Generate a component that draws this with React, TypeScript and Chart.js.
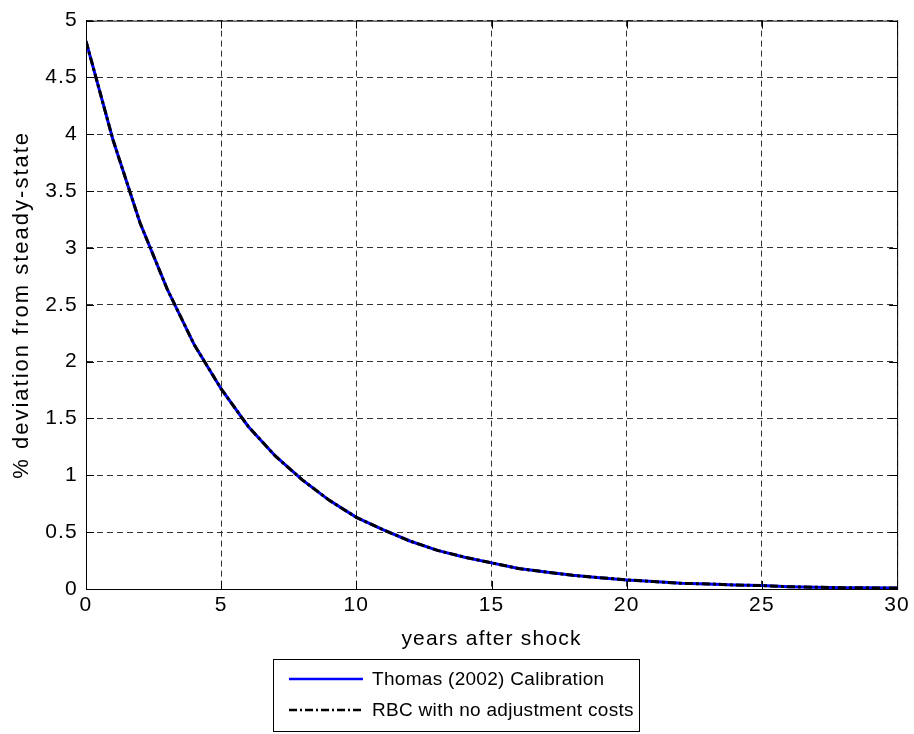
import React, { useEffect, useRef } from "react";
import { Chart, registerables } from "chart.js";

Chart.register(...registerables);

const years = [0,1,2,3,4,5,6,7,8,9,10,11,12,13,14,15,16,17,18,19,20,21,22,23,24,25,26,27,28,29,30];
const thomas = [4.82,3.95,3.22,2.64,2.15,1.76,1.43,1.17,0.96,0.78,0.63,0.52,0.42,0.34,0.28,0.23,0.18,0.15,0.12,0.10,0.08,0.065,0.05,0.045,0.035,0.03,0.02,0.015,0.012,0.01,0.008];
const rbc = [4.82,3.95,3.22,2.64,2.15,1.76,1.43,1.17,0.96,0.78,0.63,0.52,0.42,0.34,0.28,0.23,0.18,0.15,0.12,0.10,0.08,0.065,0.05,0.045,0.035,0.03,0.02,0.015,0.012,0.01,0.008];
const seriesNames = ["Thomas (2002) Calibration", "RBC with no adjustment costs"];
const xTicks = [0,5,10,15,20,25,30];
const yTicks = [0,0.5,1,1.5,2,2.5,3,3.5,4,4.5,5];
const xTitle = "years after shock";
const yTitle = "% deviation from steady-state";

const FONT = "'Liberation Sans', Arial, Helvetica, sans-serif";
const SPACING = "1.2px";

const framePlugin = {
  id: "frame",
  beforeUpdate(chart: any) { chart.ctx.letterSpacing = SPACING; },
  beforeDraw(chart: any) { chart.ctx.letterSpacing = SPACING; },
  afterDraw(chart: any) {
    const { ctx, chartArea: a } = chart;
    const xs = chart.scales.x;
    const ys = chart.scales.y;
    ctx.save();
    ctx.strokeStyle = "#000";
    ctx.lineWidth = 1;
    ctx.setLineDash([]);
    ctx.strokeRect(a.left + 0.5, a.top + 0.5, a.right - a.left, a.bottom - a.top);
    ctx.beginPath();
    xTicks.forEach((v) => {
      const px = Math.round(xs.getPixelForValue(v)) + 0.5;
      ctx.moveTo(px, a.bottom); ctx.lineTo(px, a.bottom - 8);
      ctx.moveTo(px, a.top); ctx.lineTo(px, a.top + 8);
    });
    yTicks.forEach((v) => {
      const py = Math.round(ys.getPixelForValue(v)) + 0.5;
      ctx.moveTo(a.left, py); ctx.lineTo(a.left + 8, py);
      ctx.moveTo(a.right, py); ctx.lineTo(a.right - 8, py);
    });
    ctx.stroke();

    // axis titles
    ctx.fillStyle = "#000";
    ctx.letterSpacing = SPACING;
    ctx.font = "21px " + FONT;
    ctx.textAlign = "center";
    ctx.textBaseline = "alphabetic";
    ctx.fillText(xTitle, (a.left + a.right) / 2, 645);
    ctx.save();
    ctx.translate(28, (a.top + a.bottom) / 2);
    ctx.rotate(-Math.PI / 2);
    ctx.font = "22px " + FONT;
    ctx.letterSpacing = "2px";
    ctx.fillText(yTitle, 0, 0);
    ctx.restore();

    // legend box
    const bx = 273.5, by = 659.5, bw = 366, bh = 72;
    ctx.fillStyle = "#fff";
    ctx.fillRect(bx, by, bw, bh);
    ctx.strokeStyle = "#000";
    ctx.strokeRect(bx, by, bw, bh);
    const rows = [679, 710];
    ctx.font = "19px " + FONT;
    ctx.letterSpacing = "0.3px";
    ctx.textBaseline = "middle";
    ctx.textAlign = "left";
    ctx.strokeStyle = "#0000ff";
    ctx.lineWidth = 2.5;
    ctx.beginPath(); ctx.moveTo(289, rows[0]); ctx.lineTo(363, rows[0]); ctx.stroke();
    ctx.strokeStyle = "#000";
    ctx.setLineDash([8, 3, 2, 3]);
    ctx.beginPath(); ctx.moveTo(289, rows[1]); ctx.lineTo(363, rows[1]); ctx.stroke();
    ctx.setLineDash([]);
    ctx.fillStyle = "#000";
    ctx.fillText(seriesNames[0], 372, rows[0] + 1);
    ctx.fillText(seriesNames[1], 372, rows[1] + 1);
    ctx.restore();
  },
};

export default function App() {
  const ref = useRef<HTMLCanvasElement | null>(null);
  useEffect(() => {
    if (!ref.current) return;
    const chart = new Chart(ref.current, {
      type: "line",
      data: {
        datasets: [
          {
            label: seriesNames[0],
            data: years.map((x, i) => ({ x, y: thomas[i] })),
            borderColor: "#0000ff",
            borderWidth: 3,
            pointRadius: 0,
            tension: 0,
            fill: false,
            order: 2,
          },
          {
            label: seriesNames[1],
            data: years.map((x, i) => ({ x, y: rbc[i] })),
            borderColor: "#000000",
            borderWidth: 3,
            borderDash: [8, 3, 3, 3],
            pointRadius: 0,
            tension: 0,
            fill: false,
            order: 1,
          },
        ],
      },
      options: {
        animation: false,
        responsive: false,
        devicePixelRatio: 1,
        layout: { padding: { left: 0, top: 17, right: 15, bottom: 110 } },
        plugins: { legend: { display: false }, tooltip: { enabled: false } },
        scales: {
          x: {
            type: "linear",
            min: 0,
            max: 30,
            afterBuildTicks: (s: any) => { s.ticks = xTicks.map((v) => ({ value: v })); },
            afterFit: (s: any) => { s.height = 35; },
            ticks: { color: "#000", font: { family: FONT, size: 21 }, padding: 4, callback: (v: any) => String(v) },
            grid: { color: "#333", lineWidth: 1, drawTicks: false },
            border: { display: true, color: "#000", dash: [6, 4] },
            title: { display: false },
          },
          y: {
            type: "linear",
            min: 0,
            max: 5,
            afterBuildTicks: (s: any) => { s.ticks = yTicks.map((v) => ({ value: v })); },
            afterFit: (s: any) => { s.width = 86; },
            ticks: { color: "#000", font: { family: FONT, size: 21 }, padding: 8, callback: (v: any) => String(v) },
            grid: { color: "#333", lineWidth: 1, drawTicks: false },
            border: { display: true, color: "#000", dash: [6, 4] },
            title: { display: false },
          },
        },
      },
      plugins: [framePlugin],
    } as any);
    return () => chart.destroy();
  }, []);
  return (
    <div style={{ position: "fixed", left: 0, top: 0, width: 914, height: 734, background: "#fff" }}>
      <canvas ref={ref} width={914} height={734} style={{ width: 914, height: 734, display: "block" }} />
    </div>
  );
}
